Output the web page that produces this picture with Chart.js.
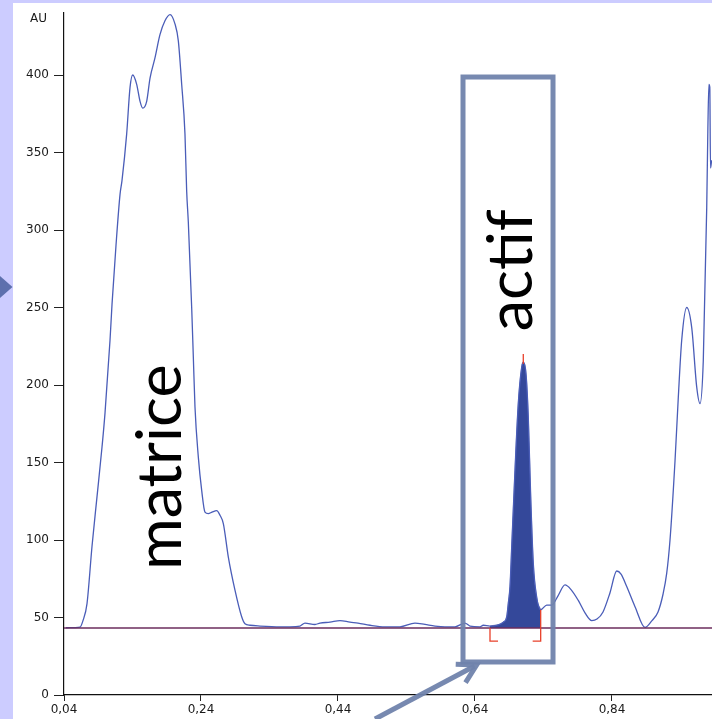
<!DOCTYPE html>
<html><head><meta charset="utf-8">
<script src="https://cdn.jsdelivr.net/npm/chart.js@4.4.1/dist/chart.umd.min.js"></script>
<style>html,body{margin:0;padding:0;background:#fff;overflow:hidden}canvas{display:block}</style>
</head><body>
<canvas id="c" width="712" height="719" style="width:712px;height:719px"></canvas>
<script>
// ---- data ----
const retentionTime = [
0.0429,0.0561,0.0634,0.0677,0.0736,0.0809,0.0882,0.0955,0.0999,0.1072,
0.1101,0.1159,0.1218,0.1247,0.1315,0.1364,0.1403,0.1461,0.1510,0.1549,
0.1607,0.1656,0.1728,0.1801,0.1874,0.1948,0.2020,0.2069,0.2118,0.2166,
0.2191,0.2215,0.2264,0.2288,0.2312,0.2361,0.2410,0.2458,0.2507,0.2561,
0.2629,0.2677,0.2726,0.2799,0.2896,0.2994,0.3042,0.3115,0.3261,0.3553,
0.3699,0.3845,0.3918,0.4064,0.4137,0.4283,0.4429,0.4575,0.4692,0.4867,
0.5086,0.5305,0.5524,0.5670,0.5816,0.5962,0.6108,0.6254,0.6327,0.6473,
0.6521,0.6619,0.6813,0.6863,0.6886,0.6911,0.6936,0.6984,0.7032,0.7082,
0.7105,0.7145,0.7178,0.7213,0.7251,0.7301,0.7359,0.7447,0.7520,0.7612,
0.7714,0.7802,0.7908,0.8006,0.8104,0.8181,0.8269,0.8371,0.8469,0.8532,
0.8615,0.8736,0.8882,0.8984,0.9072,0.9145,0.9199,0.9247,0.9320,0.9368,
0.9418,0.9491,0.9564,0.9637,0.9685,0.9733,0.9783,0.9800,0.9815,0.9828,0.9838,0.9855
];
const signal = [
43.4,43.5,43.8,48,59,96,128,160,182,229,
252,290,323,332,362,392,400,394,383,378.6,
383,398,411,426,435,439,433,422,394,362,
325,305,250,218,186,153.5,132,118,117,118,
119,116,110.6,89,67.7,50.5,46,45,44.5,44,
44,44.5,46.4,45.5,46.4,47,48,47,46.4,45,
44,44,46.4,45.5,44.5,44,44,46.4,44.5,44,
45,44.5,47,50.4,59,70,95.5,145,188,211.5,
214.7,207,179,128,85,63,55,58,58,64,
71,68,61,53,48,49,53.6,66,80,78,
70,57,43.6,48,53.6,65,78.6,100,151,192,
229,250,237,198.6,188,216,314.6,366,394,392,340,345
];
const xTickValues = [0.04, 0.24, 0.44, 0.64, 0.84];
const yTickValues = [0, 50, 100, 150, 200, 250, 300, 350, 400];
const xRange = [0.04, 0.986];
const yRange = [0, 440];
const baselineLevel = 43.2;
const integrationLimits = [0.6619, 0.7359];
const limitMarkerLow = 34.8;
const apexTime = 0.7105;
const apexMarker = [213.5, 220];
const yUnit = 'AU';
const peakLabels = ['matrice', 'actif'];

// ---- derived series ----
const curve = retentionTime.map((x, i) => ({x, y: signal[i]}));
const peakArea = curve.filter(p => p.x >= integrationLimits[0] && p.x <= integrationLimits[1]);
const baseline = [{x: xRange[0], y: baselineLevel}, {x: xRange[1], y: baselineLevel}];
const iL = integrationLimits[0], iR = integrationLimits[1];
const endY = peakArea[peakArea.length - 1].y;
const leftBracket = [{x: iL, y: baselineLevel}, {x: iL, y: limitMarkerLow}, {x: iL + 0.0117, y: limitMarkerLow}];
const rightBracket = [{x: iR, y: endY}, {x: iR, y: limitMarkerLow}, {x: iR - 0.0117, y: limitMarkerLow}];
const apexLine = [{x: apexTime, y: apexMarker[0]}, {x: apexTime, y: apexMarker[1]}];

// ---- annotation layout (positions in data units) ----
const annot = {
  box: {x0: 0.6225, x1: 0.7539, y0: 21.3, y1: 398.7},
  arrow: {x0: 0.494, y0: -15.5, x1: 0.6425, y1: 19.4},
  matrice: {x: 0.2105, y: 147},
  actif: {x: 0.7235, y: 274, len: 122}
};
const labelFont = 'Lato, "Open Sans", "Noto Sans", sans-serif';

const backdrop = {
  id: 'backdrop',
  beforeDraw(chart) {
    const ctx = chart.ctx;
    ctx.save();
    ctx.fillStyle = '#ccccff';
    ctx.fillRect(0, 0, chart.width, chart.height);
    ctx.fillStyle = '#ffffff';
    ctx.fillRect(13, 3, chart.width - 13, chart.height - 3);
    ctx.fillStyle = '#5d70ad';
    ctx.beginPath(); ctx.moveTo(0, 276); ctx.lineTo(12.5, 287); ctx.lineTo(0, 298); ctx.closePath(); ctx.fill();
    ctx.restore();
  }
};

function vText(ctx, txt, px, py, size) {
  ctx.save();
  ctx.font = size.toFixed(1) + 'px ' + labelFont;
  ctx.translate(px, py);
  ctx.rotate(-Math.PI / 2);
  ctx.textAlign = 'center';
  ctx.textBaseline = 'alphabetic';
  ctx.fillStyle = '#000';
  ctx.fillText(txt, 0, 0);
  ctx.restore();
}

const notes = {
  id: 'notes',
  afterDraw(chart) {
    const {ctx} = chart;
    const xs = chart.scales.x, ys = chart.scales.y;
    ctx.save();
    ctx.fillStyle = '#1a1a1a';
    ctx.font = '12px "DejaVu Sans"';
    ctx.textAlign = 'left';
    ctx.textBaseline = 'alphabetic';
    ctx.fillText(yUnit, 30, 21.5);

    const col = 'rgba(112,131,172,0.95)';
    const b = annot.box;
    const bx0 = xs.getPixelForValue(b.x0), bx1 = xs.getPixelForValue(b.x1);
    const by0 = ys.getPixelForValue(b.y0), by1 = ys.getPixelForValue(b.y1);
    ctx.strokeStyle = col; ctx.lineWidth = 5;
    ctx.strokeRect(bx0, by1, bx1 - bx0, by0 - by1);

    const a = annot.arrow;
    const ax0 = xs.getPixelForValue(a.x0), ay0 = ys.getPixelForValue(a.y0);
    const ax1 = xs.getPixelForValue(a.x1), ay1 = ys.getPixelForValue(a.y1);
    ctx.lineWidth = 5; ctx.lineCap = 'butt'; ctx.lineJoin = 'miter';
    ctx.beginPath(); ctx.moveTo(ax0, ay0); ctx.lineTo(ax1 - 2, ay1 + 1); ctx.stroke();
    const ang = Math.atan2(ay1 - ay0, ax1 - ax0);
    const L = 21;
    ctx.beginPath();
    ctx.moveTo(ax1 - L * Math.cos(ang - 0.52), ay1 - L * Math.sin(ang - 0.52));
    ctx.lineTo(ax1, ay1);
    ctx.lineTo(ax1 - L * Math.cos(ang + 0.52), ay1 - L * Math.sin(ang + 0.52));
    ctx.stroke();

    // common font size, fitted on the "actif" label length
    ctx.font = '60px ' + labelFont;
    const size = 60 * annot.actif.len / ctx.measureText(peakLabels[1]).width;
    const m = annot.matrice, t = annot.actif;
    vText(ctx, peakLabels[0], xs.getPixelForValue(m.x), ys.getPixelForValue(m.y), size);
    vText(ctx, peakLabels[1], xs.getPixelForValue(t.x), ys.getPixelForValue(t.y), size);
    ctx.restore();
  }
};

const red = '#e8402a';
function build() {
new Chart(document.getElementById('c'), {
  type: 'line',
  data: {
    datasets: [
      {data: apexLine, borderColor: red, borderWidth: 1.3, pointRadius: 0, fill: false, order: 1},
      {data: leftBracket, borderColor: red, borderWidth: 1.3, pointRadius: 0, fill: false, order: 1},
      {data: rightBracket, borderColor: red, borderWidth: 1.3, pointRadius: 0, fill: false, order: 1},
      {data: baseline, borderColor: '#6b2d5c', borderWidth: 1.6, pointRadius: 0, fill: false, order: 2},
      {data: curve, borderColor: '#4a5db8', borderWidth: 1.3, pointRadius: 0, fill: false,
       cubicInterpolationMode: 'monotone', order: 3},
      {data: peakArea, borderColor: '#34489a', borderWidth: 0.5, backgroundColor: '#34489a', pointRadius: 0,
       fill: {value: baselineLevel}, cubicInterpolationMode: 'monotone', order: 4}
    ]
  },
  options: {
    responsive: false,
    animation: false,
    events: [],
    layout: {padding: {top: 13, right: 0, bottom: 0, left: 0}},
    plugins: {legend: {display: false}, tooltip: {enabled: false}},
    scales: {
      x: {
        type: 'linear', min: xRange[0], max: xRange[1],
        afterBuildTicks: s => { s.ticks = xTickValues.map(v => ({value: v})); },
        afterFit: s => { s.height = 24; },
        grid: {display: true, drawOnChartArea: false, drawTicks: true, tickLength: 6, color: '#222', lineWidth: 1},
        border: {display: true, color: '#111', width: 1.2},
        ticks: {
          autoSkip: false, maxRotation: 0, padding: 2,
          color: '#1a1a1a', font: {family: 'DejaVu Sans', size: 12},
          callback: v => Number(v).toFixed(2).replace('.', ',')
        }
      },
      y: {
        type: 'linear', min: yRange[0], max: yRange[1],
        afterBuildTicks: s => { s.ticks = yTickValues.map(v => ({value: v})); },
        afterFit: s => { s.width = 64; },
        grid: {display: true, drawOnChartArea: false, drawTicks: true, tickLength: 10, color: '#222', lineWidth: 1},
        border: {display: true, color: '#111', width: 1.2},
        ticks: {
          autoSkip: false, padding: 5,
          color: '#1a1a1a', font: {family: 'DejaVu Sans', size: 12}
        }
      }
    }
  },
  plugins: [backdrop, notes]
});
}
Promise.all([document.fonts.load('60px Lato'), document.fonts.load('12px "DejaVu Sans"')])
  .then(build, build);
</script>
</body></html>
